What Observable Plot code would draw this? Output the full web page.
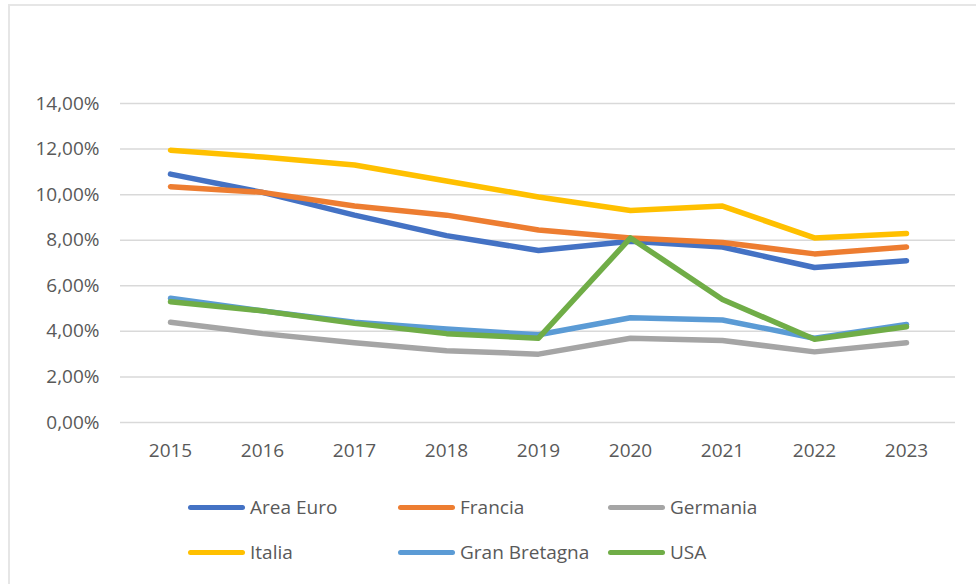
<!DOCTYPE html>
<html>
<head>
<meta charset="utf-8">
<script src="https://cdn.jsdelivr.net/npm/d3@7"></script>
<script src="https://cdn.jsdelivr.net/npm/@observablehq/plot@0.6"></script>
<style>
  html, body { margin: 0; padding: 0; background: #fff; }
  #wrap { position: relative; width: 976px; height: 584px; overflow: hidden; font-family: "Open Sans", sans-serif; }
  #frame { position: absolute; left: 8px; top: 4px; width: 2000px; height: 2000px; border-left: 2px solid #e6e6e6; border-top: 2px solid #e6e6e6; }
  #chart { position: absolute; left: 0; top: 0; }
  .leg { position: absolute; display: flex; align-items: center; font-size: 19px; color: #595959; white-space: nowrap; }
  .sw { width: 57px; height: 5px; border-radius: 3px; margin-right: 5px; }
</style>
</head>
<body>
<div id="wrap">
  <div id="frame"></div>
  <div id="chart"></div>
  <div id="legend"></div>
</div>
<script>
const years = ["2015","2016","2017","2018","2019","2020","2021","2022","2023"];
const seriesNames = ["Area Euro","Francia","Germania","Italia","Gran Bretagna","USA"];
const seriesColors = ["#4472C4","#ED7D31","#A5A5A5","#FFC000","#5B9BD5","#70AD47"];
const areaEuro     = [10.9, 10.1, 9.1, 8.2, 7.55, 7.95, 7.7, 6.8, 7.1];
const francia      = [10.35, 10.1, 9.5, 9.1, 8.45, 8.1, 7.9, 7.4, 7.7];
const germania     = [4.4, 3.9, 3.5, 3.15, 3.0, 3.7, 3.6, 3.1, 3.5];
const italia       = [11.95, 11.65, 11.3, 10.6, 9.9, 9.3, 9.5, 8.1, 8.3];
const granBretagna = [5.45, 4.9, 4.4, 4.1, 3.85, 4.6, 4.5, 3.7, 4.3];
const usa          = [5.3, 4.9, 4.35, 3.9, 3.7, 8.1, 5.4, 3.65, 4.2];
const yTicks = [0, 2, 4, 6, 8, 10, 12, 14];

const seriesValues = [areaEuro, francia, germania, italia, granBretagna, usa];
const data = [];
seriesNames.forEach((name, i) => {
  years.forEach((yr, j) => data.push({series: name, year: yr, value: seriesValues[i][j]}));
});

const fmt = d => d.toFixed(2).replace(".", ",") + "%";

const chart = Plot.plot({
  width: 976,
  height: 475,
  marginLeft: 120,
  marginRight: 21,
  marginTop: 103,
  marginBottom: 53,
  style: {fontFamily: "Open Sans, sans-serif", fontSize: "19px", color: "#595959", background: "transparent"},
  x: {type: "point", domain: years, padding: 0.5},
  y: {domain: [0, 14]},
  color: {domain: seriesNames, range: seriesColors},
  marks: [
    Plot.ruleY(yTicks, {stroke: "#d9d9d9", strokeWidth: 1.5}),
    Plot.axisY({ticks: yTicks, tickFormat: fmt, tickSize: 0, tickPadding: 21, label: null, fill: "#595959"}),
    Plot.axisX({tickSize: 0, tickPadding: 21, label: null, fill: "#595959"}),
    Plot.line(data, {x: "year", y: "value", z: "series", stroke: "series", strokeWidth: 5.5, strokeLinecap: "round", strokeLinejoin: "round"})
  ]
});
document.getElementById("chart").appendChild(chart);

const legend = document.getElementById("legend");
const colX = [188, 398, 608];
const rowY = [507, 552];
seriesNames.forEach((name, i) => {
  const el = document.createElement("div");
  el.className = "leg";
  el.style.left = colX[i % 3] + "px";
  el.style.top = (rowY[Math.floor(i / 3)] - 14) + "px";
  el.style.height = "28px";
  const sw = document.createElement("div");
  sw.className = "sw";
  sw.style.background = seriesColors[i];
  el.appendChild(sw);
  const t = document.createElement("span");
  t.textContent = name;
  el.appendChild(t);
  legend.appendChild(el);
});
</script>
</body>
</html>
